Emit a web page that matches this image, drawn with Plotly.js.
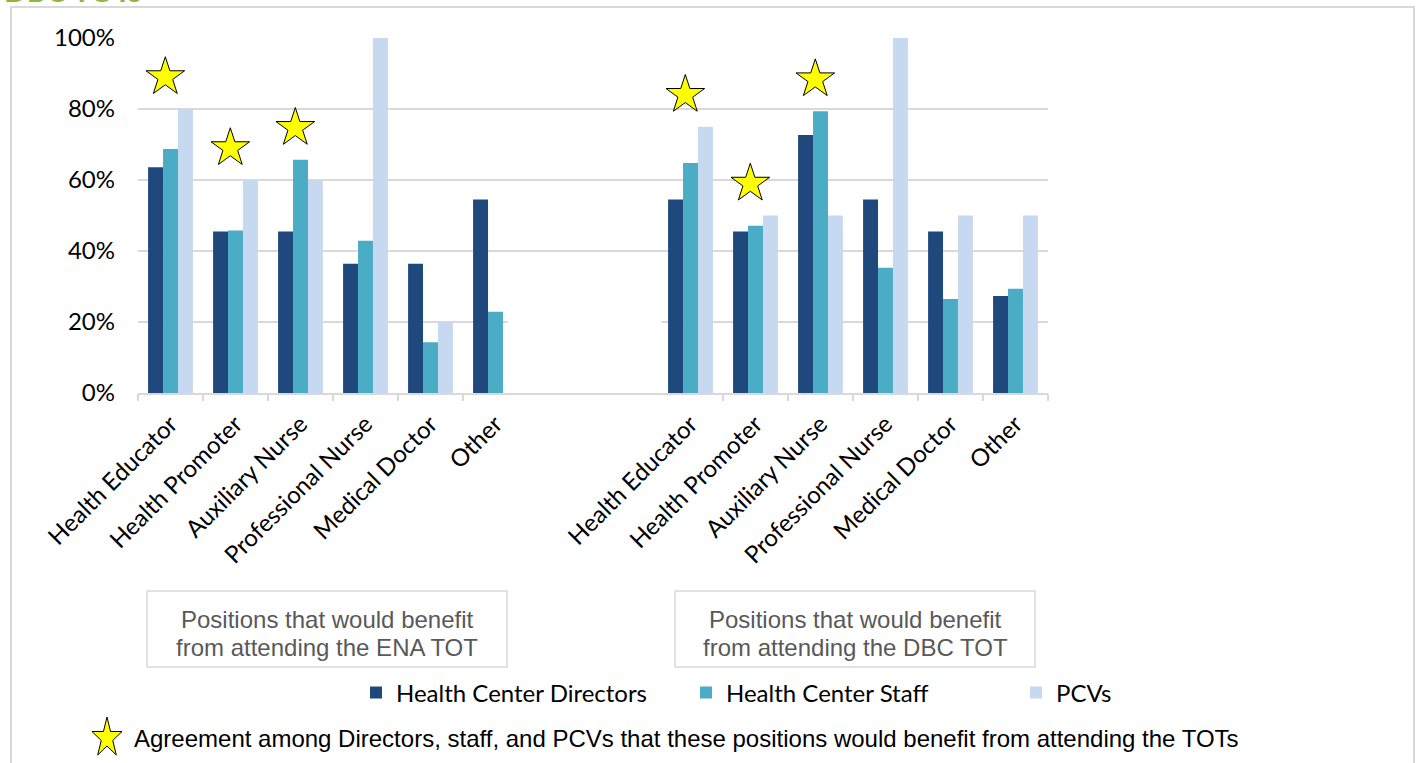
<!DOCTYPE html>
<html>
<head>
<meta charset="utf-8">
<script src="https://cdn.plot.ly/plotly-3.0.1.min.js"></script>
<style>html,body{margin:0;padding:0;background:#fff;}#chart{width:1416px;height:763px;}</style>
</head>
<body>
<div id="chart"></div>
<script>
// ---- data ----
const categories = ['Health Educator', 'Health Promoter', 'Auxiliary Nurse', 'Professional Nurse', 'Medical Doctor', 'Other'];
const enaDirectors = [63.6, 45.5, 45.5, 36.4, 36.4, 54.5];
const enaStaff     = [68.7, 45.8, 65.7, 42.9, 14.3, 22.9];
const enaPCVs      = [80, 60, 60, 100, 20, 0];
const dbcDirectors = [54.5, 45.5, 72.7, 54.5, 45.5, 27.3];
const dbcStaff     = [64.8, 47.1, 79.4, 35.3, 26.5, 29.4];
const dbcPCVs      = [75, 50, 50, 100, 50, 50];
const enaAgreement = ['Health Educator', 'Health Promoter', 'Auxiliary Nurse'];
const dbcAgreement = ['Health Educator', 'Health Promoter', 'Auxiliary Nurse'];
const seriesNames  = ['Health Center Directors', 'Health Center Staff', 'PCVs'];
const yTicks = [0, 20, 40, 60, 80, 100];

// ---- layout helpers ----
const W = 1416, H = 763;
const L = 138, R = 1048, T = 38, B = 393;
const px = x => (x - L) / (R - L);
const py = y => (B - y) / (B - T);

const enaX = categories.map((c, i) => i);
const dbcX = categories.map((c, i) => i + 8);
const allX = enaX.concat(dbcX);
const colors = ['#1f497d', '#4bacc6', '#c6d9f1'];
const seriesData = [
  enaDirectors.concat(dbcDirectors),
  enaStaff.concat(dbcStaff),
  enaPCVs.concat(dbcPCVs)
];

const traces = seriesNames.map((n, k) => ({
  type: 'bar', name: n, x: allX, y: seriesData[k],
  marker: {color: colors[k], line: {width: 0}},
  hoverinfo: 'y'
}));

// stars above categories where all three groups agree
const starX = [], starY = [];
enaAgreement.forEach(c => {
  const i = categories.indexOf(c);
  starX.push(enaX[i] - 0.08);
  starY.push(Math.max(enaDirectors[i], enaStaff[i], enaPCVs[i]) + 9);
});
dbcAgreement.forEach(c => {
  const i = categories.indexOf(c);
  starX.push(dbcX[i] - 0.08);
  starY.push(Math.max(dbcDirectors[i], dbcStaff[i], dbcPCVs[i]) + 9);
});
traces.push({
  type: 'scatter', mode: 'markers', x: starX, y: starY, xaxis: 'x2', yaxis: 'y',
  marker: {symbol: 'star', size: 29, color: '#ffff00', line: {color: '#000', width: 1}},
  showlegend: false, hoverinfo: 'skip'
});

// boundary tick marks (only around the real categories)
const tickBounds = enaX.map(v => v - 0.5).concat(dbcX.map(v => v + 0.5));

// star path for the footnote
function starPath(cx, cy, rx, ry) {
  let d = '';
  for (let k = 0; k < 10; k++) {
    const a = -Math.PI / 2 + k * Math.PI / 5;
    const f = (k % 2 === 0) ? 1 : 0.382;
    const X = px(cx + rx * f * Math.cos(a));
    const Y = py(cy + ry * f * Math.sin(a));
    d += (k === 0 ? 'M' : 'L') + X.toFixed(5) + ',' + Y.toFixed(5);
  }
  return d + 'Z';
}

const boxLine = {color: '#d9d9d9', width: 1.5};
const shapes = [
  {type: 'rect', xref: 'paper', yref: 'paper', x0: px(11), x1: px(1414), y0: py(775), y1: py(7),
   line: {color: '#d9d9d9', width: 2}, fillcolor: 'rgba(0,0,0,0)', layer: 'below'},
  {type: 'line', xref: 'x', yref: 'y', x0: 5.19, x1: 7.55, y0: 20, y1: 20,
   line: {color: '#ffffff', width: 3}, layer: 'between'},
  {type: 'rect', xref: 'paper', yref: 'paper', x0: px(147), x1: px(507), y0: py(667), y1: py(591),
   line: boxLine, fillcolor: '#ffffff'},
  {type: 'rect', xref: 'paper', yref: 'paper', x0: px(675), x1: px(1035), y0: py(667), y1: py(591),
   line: boxLine, fillcolor: '#ffffff'},
  {type: 'path', xref: 'paper', yref: 'paper', path: starPath(107, 738, 15.8, 21),
   fillcolor: '#ffff00', line: {color: '#000', width: 1}}
];

const boxFont = {family: 'Liberation Sans, Arial, sans-serif', size: 24, color: '#595959'};
const annotations = [
  {xref: 'paper', yref: 'paper', x: px(327), y: py(619), text: 'Positions that would benefit', showarrow: false, font: boxFont, xanchor: 'center', yanchor: 'middle'},
  {xref: 'paper', yref: 'paper', x: px(327), y: py(647), text: 'from attending the ENA TOT', showarrow: false, font: boxFont, xanchor: 'center', yanchor: 'middle'},
  {xref: 'paper', yref: 'paper', x: px(855), y: py(619), text: 'Positions that would benefit', showarrow: false, font: boxFont, xanchor: 'center', yanchor: 'middle'},
  {xref: 'paper', yref: 'paper', x: px(855), y: py(647), text: 'from attending the DBC TOT', showarrow: false, font: boxFont, xanchor: 'center', yanchor: 'middle'},
  {xref: 'paper', yref: 'paper', x: px(132), y: py(738), xanchor: 'left', yanchor: 'middle', showarrow: false,
   text: 'Agreement among Directors, staff, and PCVs that these positions would benefit from attending the TOTs',
   font: {family: 'Liberation Sans, Arial, sans-serif', size: 24, color: '#000'}},
  {xref: 'paper', yref: 'paper', x: px(2), y: py(10), xanchor: 'left', yanchor: 'bottom', showarrow: false,
   text: '<b>DBC TOTs</b>', font: {family: 'Lato, sans-serif', size: 30, color: '#8fb63e'}}
];

const layout = {
  width: W, height: H,
  margin: {l: L, r: W - R, t: T, b: H - B, pad: 0},
  paper_bgcolor: '#ffffff', plot_bgcolor: '#ffffff',
  barmode: 'group', bargap: 0.31, bargroupgap: 0,
  font: {family: 'Lato, sans-serif', color: '#000'},
  xaxis: {
    range: [-0.5, 13.5], tickvals: allX, ticktext: categories.concat(categories),
    tickangle: -45, ticks: '', showgrid: false, zeroline: false,
    showline: true, linecolor: '#d9d9d9', linewidth: 1.5, ticklabelstandoff: 6,
    tickfont: {family: 'Lato, sans-serif', size: 24, color: '#000'}
  },
  xaxis2: {
    overlaying: 'x', anchor: 'y', side: 'bottom', range: [-0.5, 13.5],
    tickvals: tickBounds, ticks: 'outside', ticklen: 7, tickcolor: '#d9d9d9', tickwidth: 1.5,
    showticklabels: false, showgrid: false, zeroline: false, showline: false
  },
  yaxis: {
    range: [0, 100], tickvals: yTicks, ticktext: yTicks.map(v => v + '%'),
    showgrid: true, gridcolor: '#d9d9d9', gridwidth: 1.5, zeroline: false, showline: false,
    ticks: '', ticklabelstandoff: 22,
    tickfont: {family: 'Lato, sans-serif', size: 24, color: '#000'}
  },
  showlegend: true,
  legend: {
    orientation: 'h', x: px(356 + 3 * 330), y: py(693), xanchor: 'right', yanchor: 'middle',
    entrywidth: 285, entrywidthmode: 'pixels', traceorder: 'normal',
    font: {family: 'Lato, sans-serif', size: 24, color: '#000'}, bgcolor: 'rgba(0,0,0,0)'
  },
  shapes: shapes,
  annotations: annotations
};

Plotly.newPlot('chart', traces, layout, {displayModeBar: false, staticPlot: true});
</script>
</body>
</html>
